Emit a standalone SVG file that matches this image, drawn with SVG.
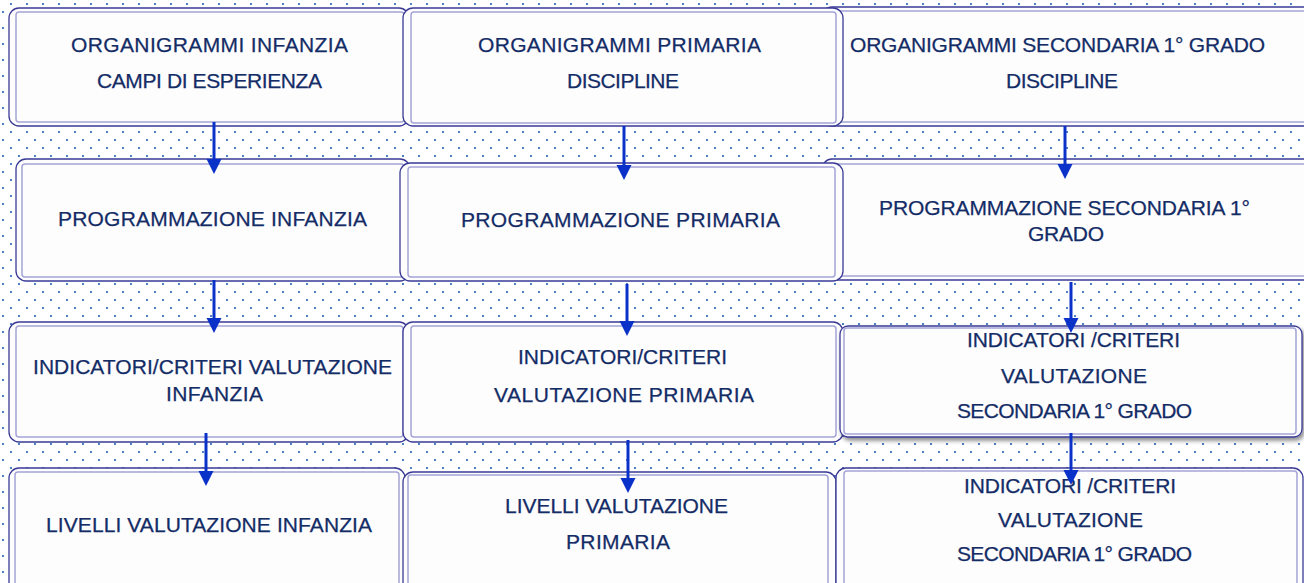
<svg xmlns="http://www.w3.org/2000/svg" width="1304" height="583" viewBox="0 0 1304 583">
  <defs>
    <pattern id="dots" width="16" height="16" patternUnits="userSpaceOnUse">
      <rect x="10" y="3" width="2" height="2" fill="#4f80c0"/>
      <rect x="2" y="11" width="2" height="2" fill="#4f80c0"/>
    </pattern>
    <marker id="ah" markerUnits="userSpaceOnUse" markerWidth="16" markerHeight="16" viewBox="0 0 16 16" refX="2" refY="8" orient="auto">
      <path d="M0,0.5 L15,8 L0,15.5 z" fill="#0a32c8"/>
    </marker>
    <filter id="shadow" x="-5%" y="-10%" width="115%" height="130%">
      <feDropShadow dx="2" dy="3" stdDeviation="2" flood-color="#000" flood-opacity="0.45"/>
    </filter>
  </defs>
  <style>
    .outer { fill: #fdfdfe; stroke: #3a3a96; stroke-width: 1.3; }
    .inner { fill: none; stroke: #a4a4d8; stroke-width: 1.5; }
    .t { font-family: "Liberation Sans", Arial, sans-serif; font-size: 21px; fill: #142c66; stroke: #142c66; stroke-width: 0.25; }
    .conn { stroke: #0a32c8; stroke-width: 3; fill: none; marker-end: url(#ah); }
  </style>
  <rect width="1304" height="583" fill="#ffffff"/>
  <rect width="1304" height="583" fill="url(#dots)"/>

  <!-- Row 1 -->
  <g id="sec-organigrammi">
    <rect class="outer" x="822" y="7" width="500" height="119" rx="10"/>
    <rect class="inner" x="830" y="11" width="490" height="111" rx="3"/>
    <text class="t" x="850" y="52" textLength="415">ORGANIGRAMMI SECONDARIA 1° GRADO</text>
    <text class="t" x="1006" y="88" textLength="112">DISCIPLINE</text>
  </g>
  <g id="inf-organigrammi">
    <rect class="outer" x="9" y="8" width="400" height="118" rx="10"/>
    <rect class="inner" x="16" y="12" width="388" height="110" rx="3"/>
    <text class="t" x="71" y="52" textLength="277">ORGANIGRAMMI INFANZIA</text>
    <text class="t" x="97" y="88" textLength="225">CAMPI DI ESPERIENZA</text>
  </g>
  <g id="pri-organigrammi">
    <rect class="outer" x="403" y="8" width="440" height="118" rx="10"/>
    <rect class="inner" x="411" y="12" width="425" height="111" rx="3"/>
    <text class="t" x="478" y="52" textLength="283">ORGANIGRAMMI PRIMARIA</text>
    <text class="t" x="567" y="88" textLength="112">DISCIPLINE</text>
  </g>

  <!-- Row 2 -->
  <g id="sec-programmazione">
    <rect class="outer" x="822" y="159" width="500" height="121" rx="10"/>
    <rect class="inner" x="830" y="164" width="490" height="112" rx="3"/>
    <text class="t" x="879" y="215" textLength="371">PROGRAMMAZIONE SECONDARIA 1°</text>
    <text class="t" x="1028" y="241" textLength="76">GRADO</text>
  </g>
  <g id="inf-programmazione">
    <rect class="outer" x="16" y="159" width="394" height="122" rx="10"/>
    <rect class="inner" x="22" y="164" width="382" height="113" rx="3"/>
    <text class="t" x="58" y="226" textLength="309">PROGRAMMAZIONE INFANZIA</text>
  </g>
  <g id="pri-programmazione">
    <rect class="outer" x="400" y="163" width="443" height="118" rx="10"/>
    <rect class="inner" x="408" y="167" width="427" height="110" rx="3"/>
    <text class="t" x="461" y="227" textLength="319">PROGRAMMAZIONE  PRIMARIA</text>
  </g>

  <!-- Row 3 -->
  <g id="inf-indicatori">
    <rect class="outer" x="9" y="322" width="400" height="120" rx="10"/>
    <rect class="inner" x="16" y="326" width="387" height="111" rx="3"/>
    <text class="t" x="33" y="374" textLength="359">INDICATORI/CRITERI VALUTAZIONE</text>
    <text class="t" x="166" y="401" textLength="97">INFANZIA</text>
  </g>
  <g id="pri-indicatori">
    <rect class="outer" x="403" y="322" width="440" height="120" rx="10"/>
    <rect class="inner" x="411" y="326" width="425" height="111" rx="3"/>
    <text class="t" x="518" y="364" textLength="209">INDICATORI/CRITERI</text>
    <text class="t" x="494" y="402" textLength="260">VALUTAZIONE  PRIMARIA</text>
  </g>
  <g id="sec-indicatori">
    <rect class="outer" x="840" y="326" width="462" height="111" rx="8" filter="url(#shadow)"/>
    <rect class="inner" x="844" y="328" width="452" height="106" rx="3"/>
    <text class="t" x="967" y="347" textLength="213">INDICATORI /CRITERI</text>
    <text class="t" x="1001" y="383" textLength="146">VALUTAZIONE</text>
    <text class="t" x="957" y="418" textLength="235">SECONDARIA 1° GRADO</text>
  </g>

  <!-- Row 4 -->
  <g id="inf-livelli">
    <rect class="outer" x="9" y="468" width="396" height="130" rx="10"/>
    <rect class="inner" x="15" y="472" width="384" height="122" rx="3"/>
    <text class="t" x="46" y="532" textLength="326">LIVELLI VALUTAZIONE INFANZIA</text>
  </g>
  <g id="pri-livelli">
    <rect class="outer" x="403" y="472" width="433" height="126" rx="10"/>
    <rect class="inner" x="408" y="475" width="420" height="120" rx="3"/>
    <text class="t" x="505" y="513" textLength="223">LIVELLI VALUTAZIONE</text>
    <text class="t" x="566" y="549" textLength="104">PRIMARIA</text>
  </g>
  <g id="sec-livelli">
    <rect class="outer" x="836" y="468" width="467" height="130" rx="10"/>
    <rect class="inner" x="844" y="471" width="453" height="122" rx="3"/>
    <text class="t" x="964" y="493" textLength="212">INDICATORI /CRITERI</text>
    <text class="t" x="998" y="527" textLength="145">VALUTAZIONE</text>
    <text class="t" x="957" y="561" textLength="235">SECONDARIA 1° GRADO</text>
  </g>

  <!-- Connectors -->
  <g id="connectors">
    <path class="conn" d="M214,122 V161"/>
    <path class="conn" d="M624,126 V167"/>
    <path class="conn" d="M1065,126 V166"/>
    <path class="conn" d="M214,280 V320"/>
    <path class="conn" d="M627,284 V323"/>
    <path class="conn" d="M1071,282 V320"/>
    <path class="conn" d="M206,433 V473"/>
    <path class="conn" d="M628,440 V480"/>
    <path class="conn" d="M1071,433 V472"/>
  </g>
</svg>
